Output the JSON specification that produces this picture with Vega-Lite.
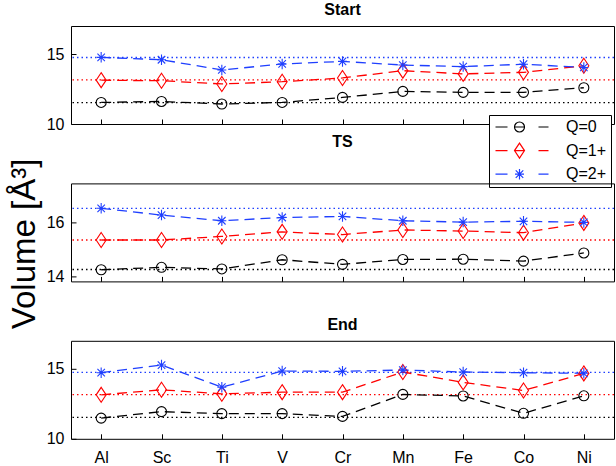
{
  "$schema": "https://vega.github.io/schema/vega-lite/v6.json",
  "padding": {"left": 7, "top": 1, "right": 3, "bottom": 0},
  "bounds": "flush",
  "spacing": 59.4,
  "config": {
    "font": "Liberation Sans",
    "view": {"stroke": "black", "strokeWidth": 1},
    "title": {"fontSize": 16, "fontWeight": "bold", "offset": 8, "color": "black", "font": "Liberation Sans"},
    "axis": {"labelFontSize": 16, "labelColor": "black", "labelFont": "Liberation Sans", "grid": false, "domain": false, "tickColor": "black", "tickSize": -5, "labelPadding": 12, "title": null}
  },
  "resolve": {"scale": {"color": "independent", "shape": "independent"}, "legend": {"color": "independent", "shape": "independent"}},
  "datasets": {
    "vals": [
      {"p":"Start","m":"Al","Q":"Q=0","v":11.54},{"p":"Start","m":"Sc","Q":"Q=0","v":11.61},{"p":"Start","m":"Ti","Q":"Q=0","v":11.43},{"p":"Start","m":"V","Q":"Q=0","v":11.54},{"p":"Start","m":"Cr","Q":"Q=0","v":11.9},{"p":"Start","m":"Mn","Q":"Q=0","v":12.33},{"p":"Start","m":"Fe","Q":"Q=0","v":12.26},{"p":"Start","m":"Co","Q":"Q=0","v":12.26},{"p":"Start","m":"Ni","Q":"Q=0","v":12.59},
      {"p":"Start","m":"Al","Q":"Q=1+","v":13.13},{"p":"Start","m":"Sc","Q":"Q=1+","v":13.09},{"p":"Start","m":"Ti","Q":"Q=1+","v":12.86},{"p":"Start","m":"V","Q":"Q=1+","v":13.02},{"p":"Start","m":"Cr","Q":"Q=1+","v":13.29},{"p":"Start","m":"Mn","Q":"Q=1+","v":13.81},{"p":"Start","m":"Fe","Q":"Q=1+","v":13.58},{"p":"Start","m":"Co","Q":"Q=1+","v":13.69},{"p":"Start","m":"Ni","Q":"Q=1+","v":14.16},
      {"p":"Start","m":"Al","Q":"Q=2+","v":14.76},{"p":"Start","m":"Sc","Q":"Q=2+","v":14.59},{"p":"Start","m":"Ti","Q":"Q=2+","v":13.86},{"p":"Start","m":"V","Q":"Q=2+","v":14.29},{"p":"Start","m":"Cr","Q":"Q=2+","v":14.47},{"p":"Start","m":"Mn","Q":"Q=2+","v":14.21},{"p":"Start","m":"Fe","Q":"Q=2+","v":14.1},{"p":"Start","m":"Co","Q":"Q=2+","v":14.27},{"p":"Start","m":"Ni","Q":"Q=2+","v":14.04},
      {"p":"TS","m":"Al","Q":"Q=0","v":14.25},{"p":"TS","m":"Sc","Q":"Q=0","v":14.34},{"p":"TS","m":"Ti","Q":"Q=0","v":14.28},{"p":"TS","m":"V","Q":"Q=0","v":14.62},{"p":"TS","m":"Cr","Q":"Q=0","v":14.45},{"p":"TS","m":"Mn","Q":"Q=0","v":14.63},{"p":"TS","m":"Fe","Q":"Q=0","v":14.64},{"p":"TS","m":"Co","Q":"Q=0","v":14.57},{"p":"TS","m":"Ni","Q":"Q=0","v":14.87},
      {"p":"TS","m":"Al","Q":"Q=1+","v":15.35},{"p":"TS","m":"Sc","Q":"Q=1+","v":15.35},{"p":"TS","m":"Ti","Q":"Q=1+","v":15.48},{"p":"TS","m":"V","Q":"Q=1+","v":15.65},{"p":"TS","m":"Cr","Q":"Q=1+","v":15.55},{"p":"TS","m":"Mn","Q":"Q=1+","v":15.72},{"p":"TS","m":"Fe","Q":"Q=1+","v":15.68},{"p":"TS","m":"Co","Q":"Q=1+","v":15.62},{"p":"TS","m":"Ni","Q":"Q=1+","v":15.98},
      {"p":"TS","m":"Al","Q":"Q=2+","v":16.52},{"p":"TS","m":"Sc","Q":"Q=2+","v":16.27},{"p":"TS","m":"Ti","Q":"Q=2+","v":16.06},{"p":"TS","m":"V","Q":"Q=2+","v":16.18},{"p":"TS","m":"Cr","Q":"Q=2+","v":16.22},{"p":"TS","m":"Mn","Q":"Q=2+","v":16.06},{"p":"TS","m":"Fe","Q":"Q=2+","v":16.01},{"p":"TS","m":"Co","Q":"Q=2+","v":16.04},{"p":"TS","m":"Ni","Q":"Q=2+","v":16.0},
      {"p":"End","m":"Al","Q":"Q=0","v":11.48},{"p":"End","m":"Sc","Q":"Q=0","v":11.94},{"p":"End","m":"Ti","Q":"Q=0","v":11.8},{"p":"End","m":"V","Q":"Q=0","v":11.8},{"p":"End","m":"Cr","Q":"Q=0","v":11.6},{"p":"End","m":"Mn","Q":"Q=0","v":13.17},{"p":"End","m":"Fe","Q":"Q=0","v":13.06},{"p":"End","m":"Co","Q":"Q=0","v":11.82},{"p":"End","m":"Ni","Q":"Q=0","v":13.07},
      {"p":"End","m":"Al","Q":"Q=1+","v":13.14},{"p":"End","m":"Sc","Q":"Q=1+","v":13.5},{"p":"End","m":"Ti","Q":"Q=1+","v":13.21},{"p":"End","m":"V","Q":"Q=1+","v":13.33},{"p":"End","m":"Cr","Q":"Q=1+","v":13.33},{"p":"End","m":"Mn","Q":"Q=1+","v":14.77},{"p":"End","m":"Fe","Q":"Q=1+","v":14.03},{"p":"End","m":"Co","Q":"Q=1+","v":13.45},{"p":"End","m":"Ni","Q":"Q=1+","v":14.67},
      {"p":"End","m":"Al","Q":"Q=2+","v":14.72},{"p":"End","m":"Sc","Q":"Q=2+","v":15.27},{"p":"End","m":"Ti","Q":"Q=2+","v":13.69},{"p":"End","m":"V","Q":"Q=2+","v":14.84},{"p":"End","m":"Cr","Q":"Q=2+","v":14.82},{"p":"End","m":"Mn","Q":"Q=2+","v":14.91},{"p":"End","m":"Fe","Q":"Q=2+","v":14.77},{"p":"End","m":"Co","Q":"Q=2+","v":14.72},{"p":"End","m":"Ni","Q":"Q=2+","v":14.68}
    ],
    "refs": [
      {"p":"Start","Q":"Q=0","r":11.53},{"p":"Start","Q":"Q=1+","r":13.15},{"p":"Start","Q":"Q=2+","r":14.75},
      {"p":"TS","Q":"Q=0","r":14.26},{"p":"TS","Q":"Q=1+","r":15.35},{"p":"TS","Q":"Q=2+","r":16.52},
      {"p":"End","Q":"Q=0","r":11.53},{"p":"End","Q":"Q=1+","r":13.15},{"p":"End","Q":"Q=2+","r":14.75}
    ]
  },
  "vconcat": [
    {
      "title": "Start",
      "width": 543, "height": 98,
      "resolve": {"scale": {"color": "independent", "shape": "independent"}, "legend": {"color": "independent", "shape": "independent"}},
      "layer": [
        {"data": {"name": "refs"}, "transform": [{"filter": "datum.p == 'Start'"}],
         "mark": {"type": "rule", "strokeDash": [1.5, 3], "strokeWidth": 1.3},
         "encoding": {
           "y": {"field": "r", "type": "quantitative", "scale": {"domain": [10, 17], "nice": false, "zero": false}, "axis": {"values": [10, 15]}},
           "color": {"field": "Q", "type": "nominal", "scale": {"domain": ["Q=0","Q=1+","Q=2+"], "range": ["#000000","#ff0000","#1f3fff"]}, "legend": null}
         }},
        {"data": {"name": "vals"}, "transform": [{"filter": "datum.p == 'Start'"}],
         "mark": {"type": "line", "strokeDash": [10, 6], "strokeWidth": 1.3},
         "encoding": {
           "x": {"field": "m", "type": "ordinal", "sort": ["Al","Sc","Ti","V","Cr","Mn","Fe","Co","Ni"], "scale": {"type": "point", "padding": 0.5}, "axis": {"labels": false}},
           "y": {"field": "v", "type": "quantitative"},
           "color": {"field": "Q", "type": "nominal", "scale": {"domain": ["Q=0","Q=1+","Q=2+"], "range": ["#000000","#ff0000","#1f3fff"]}, "legend": null}
         }},
        {"data": {"name": "vals"}, "transform": [{"filter": "datum.p == 'Start'"}],
         "mark": {"type": "point", "filled": false, "size": 100, "strokeWidth": 1.1, "opacity": 1},
         "encoding": {
           "x": {"field": "m", "type": "ordinal", "sort": ["Al","Sc","Ti","V","Cr","Mn","Fe","Co","Ni"]},
           "y": {"field": "v", "type": "quantitative"},
           "color": {"field": "Q", "type": "nominal", "scale": {"domain": ["Q=0","Q=1+","Q=2+"], "range": ["#000000","#ff0000","#1f3fff"]}, "legend": null},
           "shape": {"field": "Q", "type": "nominal", "scale": {"domain": ["Q=0","Q=1+","Q=2+"], "range": ["circle", "M0,-1.5L1,0L0,1.5L-1,0Z", "M0,-1.05V1.05M-0.9,0H0.9M-0.75,-0.75L0.75,0.75M-0.75,0.75L0.75,-0.75"]}, "legend": null}
         }},
        {"data": {"name": "refs"}, "transform": [{"filter": "datum.p == 'Start'"}],
         "mark": {"type": "point", "filled": false, "size": 100, "strokeWidth": 1.2, "opacity": 0},
         "encoding": {
           "y": {"field": "r", "type": "quantitative"},
           "color": {"field": "Q", "type": "nominal", "scale": {"domain": ["Q=0","Q=1+","Q=2+"], "range": ["#000000","#ff0000","#1f3fff"]},
             "legend": {"orient": "none", "legendX": 418, "legendY": 89, "title": null, "fillColor": "white", "strokeColor": "black", "padding": 4, "labelFontSize": 16, "labelColor": "black", "labelFont": "Liberation Sans", "symbolSize": 100, "symbolStrokeWidth": 1.2, "symbolOpacity": 1, "symbolOffset": 21, "labelOffset": 36, "rowPadding": 5.6}},
           "shape": {"field": "Q", "type": "nominal", "scale": {"domain": ["Q=0","Q=1+","Q=2+"], "range": ["M-5.3,0H-2.9M-1.5,0A1,1,0,1,1,0.5,0A1,1,0,1,1,-1.5,0M-1.5,0H0.5M3.3,0H5.3", "M-5.3,0H-2.9M-0.5,-1.5L0.5,0L-0.5,1.5L-1.5,0ZM-1.5,0H0.5M3.3,0H5.3", "M-5.3,0H-2.9M-0.5,-1.05V1.05M-1.4,0H0.4M-1.25,-0.75L0.25,0.75M-1.25,0.75L0.25,-0.75M3.3,0H5.3"]},
             "legend": {"orient": "none", "legendX": 418, "legendY": 89, "title": null, "fillColor": "white", "strokeColor": "black", "padding": 4, "labelFontSize": 16, "labelColor": "black", "labelFont": "Liberation Sans", "symbolSize": 100, "symbolStrokeWidth": 1.2, "symbolOpacity": 1, "symbolOffset": 21, "labelOffset": 36, "rowPadding": 5.6}}
         }}
      ]
    },
    {
      "title": "TS",
      "width": 543, "height": 98,
      "layer": [
        {"data": {"name": "refs"}, "transform": [{"filter": "datum.p == 'TS'"}],
         "mark": {"type": "rule", "strokeDash": [1.5, 3], "strokeWidth": 1.3},
         "encoding": {
           "y": {"field": "r", "type": "quantitative", "scale": {"domain": [13.82, 17.44], "nice": false, "zero": false}, "axis": {"values": [14, 16], "title": "Volume [Å³]", "titleFontSize": 33, "titleFontWeight": "normal", "titleColor": "black", "titleFont": "Liberation Sans", "titlePadding": 5, "titleY": 60}},
           "color": {"field": "Q", "type": "nominal", "scale": {"domain": ["Q=0","Q=1+","Q=2+"], "range": ["#000000","#ff0000","#1f3fff"]}, "legend": null}
         }},
        {"data": {"name": "vals"}, "transform": [{"filter": "datum.p == 'TS'"}],
         "mark": {"type": "line", "strokeDash": [10, 6], "strokeWidth": 1.3},
         "encoding": {
           "x": {"field": "m", "type": "ordinal", "sort": ["Al","Sc","Ti","V","Cr","Mn","Fe","Co","Ni"], "scale": {"type": "point", "padding": 0.5}, "axis": {"labels": false}},
           "y": {"field": "v", "type": "quantitative"},
           "color": {"field": "Q", "type": "nominal", "legend": null}
         }},
        {"data": {"name": "vals"}, "transform": [{"filter": "datum.p == 'TS'"}],
         "mark": {"type": "point", "filled": false, "size": 100, "strokeWidth": 1.1, "opacity": 1},
         "encoding": {
           "x": {"field": "m", "type": "ordinal", "sort": ["Al","Sc","Ti","V","Cr","Mn","Fe","Co","Ni"]},
           "y": {"field": "v", "type": "quantitative"},
           "color": {"field": "Q", "type": "nominal", "legend": null},
           "shape": {"field": "Q", "type": "nominal", "scale": {"domain": ["Q=0","Q=1+","Q=2+"], "range": ["circle", "M0,-1.5L1,0L0,1.5L-1,0Z", "M0,-1.05V1.05M-0.9,0H0.9M-0.75,-0.75L0.75,0.75M-0.75,0.75L0.75,-0.75"]}, "legend": null}
         }}
      ]
    },
    {
      "title": "End",
      "width": 543, "height": 98,
      "layer": [
        {"data": {"name": "refs"}, "transform": [{"filter": "datum.p == 'End'"}],
         "mark": {"type": "rule", "strokeDash": [1.5, 3], "strokeWidth": 1.3},
         "encoding": {
           "y": {"field": "r", "type": "quantitative", "scale": {"domain": [10, 17], "nice": false, "zero": false}, "axis": {"values": [10, 15]}},
           "color": {"field": "Q", "type": "nominal", "scale": {"domain": ["Q=0","Q=1+","Q=2+"], "range": ["#000000","#ff0000","#1f3fff"]}, "legend": null}
         }},
        {"data": {"name": "vals"}, "transform": [{"filter": "datum.p == 'End'"}],
         "mark": {"type": "line", "strokeDash": [10, 6], "strokeWidth": 1.3},
         "encoding": {
           "x": {"field": "m", "type": "ordinal", "sort": ["Al","Sc","Ti","V","Cr","Mn","Fe","Co","Ni"], "scale": {"type": "point", "padding": 0.5}, "axis": {"labelAngle": 0, "labelPadding": 16}},
           "y": {"field": "v", "type": "quantitative"},
           "color": {"field": "Q", "type": "nominal", "legend": null}
         }},
        {"data": {"name": "vals"}, "transform": [{"filter": "datum.p == 'End'"}],
         "mark": {"type": "point", "filled": false, "size": 100, "strokeWidth": 1.1, "opacity": 1},
         "encoding": {
           "x": {"field": "m", "type": "ordinal", "sort": ["Al","Sc","Ti","V","Cr","Mn","Fe","Co","Ni"]},
           "y": {"field": "v", "type": "quantitative"},
           "color": {"field": "Q", "type": "nominal", "legend": null},
           "shape": {"field": "Q", "type": "nominal", "scale": {"domain": ["Q=0","Q=1+","Q=2+"], "range": ["circle", "M0,-1.5L1,0L0,1.5L-1,0Z", "M0,-1.05V1.05M-0.9,0H0.9M-0.75,-0.75L0.75,0.75M-0.75,0.75L0.75,-0.75"]}, "legend": null}
         }}
      ]
    }
  ]
}
